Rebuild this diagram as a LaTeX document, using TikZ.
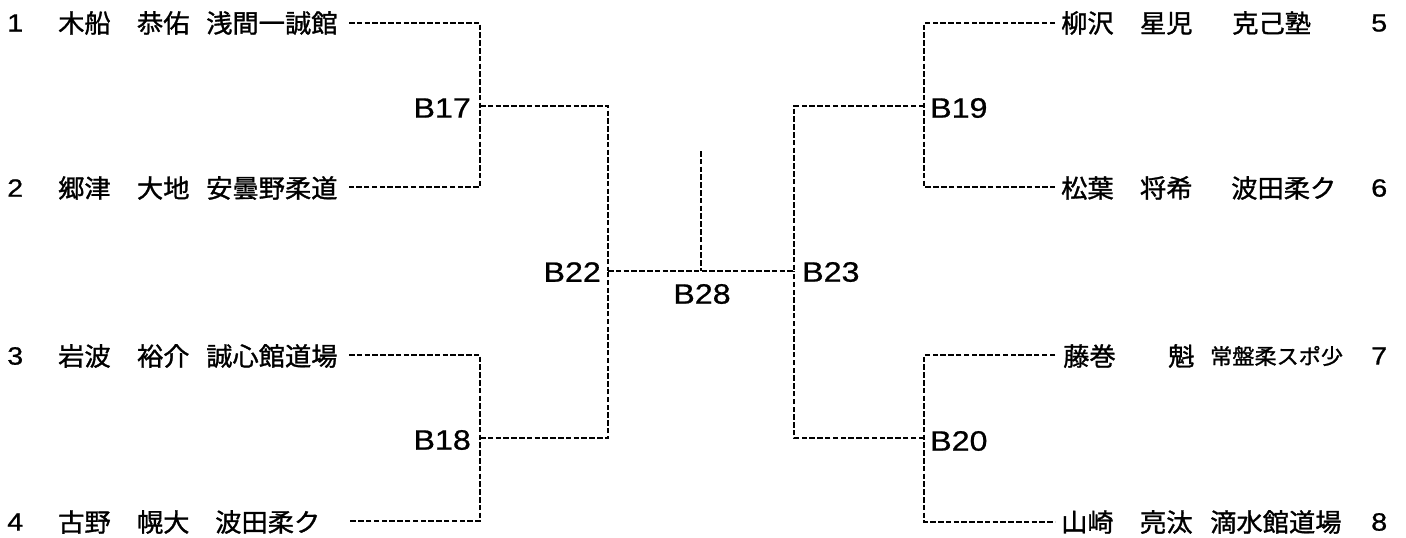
\documentclass[tikz,border=0pt]{standalone}
\usepackage{fontspec}
\setmainfont{Liberation Sans}
\newfontfamily\jpf[FakeStretch=1.03,FakeBold=1.2]{Noto Sans CJK JP}
\newfontfamily\latf[FakeStretch=1.15,FakeBold=0.8]{Liberation Sans}
\begin{document}
\begin{tikzpicture}[x=1pt,y=-1pt,
  bl/.style={line width=2.9pt, dash pattern=on 5.5pt off 2.3pt},
  num/.style={anchor=west, inner sep=0pt, font=\latf\fontsize{25}{25}\selectfont},
  nm/.style={anchor=west, inner sep=0pt, font=\jpf\fontsize{25.5}{26}\selectfont},
  sm/.style={anchor=west, inner sep=0pt, font=\jpf\fontsize{21.5}{22}\selectfont},
  lbl/.style={inner sep=0pt, font=\latf\fontsize{28}{28}\selectfont}]
\useasboundingbox[fill=white] (0,0) rectangle (1406,538);
% left entries
\node[num] (n1) at (7,23) {1};
\node[nm] (p1) at (58,23) {木船　恭佑};
\node[nm] (c1) at (206,23) {浅間一誠館};
\node[num] (n2) at (7,188) {2};
\node[nm] (p2) at (58,188) {郷津　大地};
\node[nm] (c2) at (206,188) {安曇野柔道};
\node[num] (n3) at (7,356) {3};
\node[nm] (p3) at (58,356) {岩波　裕介};
\node[nm] (c3) at (206,356) {誠心館道場};
\node[num] (n4) at (7,522) {4};
\node[nm] (p4) at (58,522) {古野　幌大};
\node[nm] (c4) at (215,522) {波田柔ク};
% right entries
\node[nm] (p5) at (1061,23) {柳沢　星児};
\node[nm] (c5) at (1232,23) {克己塾};
\node[num] (n5) at (1371,23) {5};
\node[nm] (p6) at (1061,188) {松葉　将希};
\node[nm] (c6) at (1231,188) {波田柔ク};
\node[num] (n6) at (1371,188) {6};
\node[nm] (p7) at (1063,356) {藤巻　　魁};
\node[sm] (c7) at (1210,356) {常盤柔スポ少};
\node[num] (n7) at (1371,356) {7};
\node[nm] (p8) at (1061,522) {山崎　亮汰};
\node[nm] (c8) at (1210,522) {滴水館道場};
\node[num] (n8) at (1371,522) {8};
% match labels
\node[lbl,anchor=east] (b17) at (471,108) {B17};
\node[lbl,anchor=east] (b18) at (471,440) {B18};
\node[lbl,anchor=east] (b22) at (601,272) {B22};
\node[lbl,anchor=west] (b23) at (802,272) {B23};
\node[lbl,anchor=west] (b19) at (930,108) {B19};
\node[lbl,anchor=west] (b20) at (930,441) {B20};
\node[lbl] (b28) at (702,294) {B28};
% coordinates
\coordinate (s1) at (349,23);
\coordinate (s2) at (349,187);
\coordinate (s3) at (349,355);
\coordinate (s4) at (349,521);
\coordinate (j17) at (480,106);
\coordinate (j18) at (480,438);
\coordinate (j22) at (608,271);
\coordinate (m28) at (701,271);
\coordinate (t28) at (701,151);
\coordinate (j23) at (794,271);
\coordinate (j19) at (924,106);
\coordinate (j20) at (924,438);
\coordinate (e5) at (1055,23);
\coordinate (e6) at (1055,187);
\coordinate (e7) at (1055,355);
\coordinate (e8) at (1055,522);
% connectors
\draw[bl] (s1) -| (j17) |- (s2);
\draw[bl] (s3) -| (j18) |- (s4);
\draw[bl] (j17) -| (j22);
\draw[bl] (j18) -| (j22);
\draw[bl] (j22) -- (j23);
\draw[bl] (t28) -- (m28);
\draw[bl] (j19) -| (j23);
\draw[bl] (j20) -| (j23);
\draw[bl] (e5) -| (j19) |- (e6);
\draw[bl] (e7) -| (j20) |- (e8);
\end{tikzpicture}
\end{document}
